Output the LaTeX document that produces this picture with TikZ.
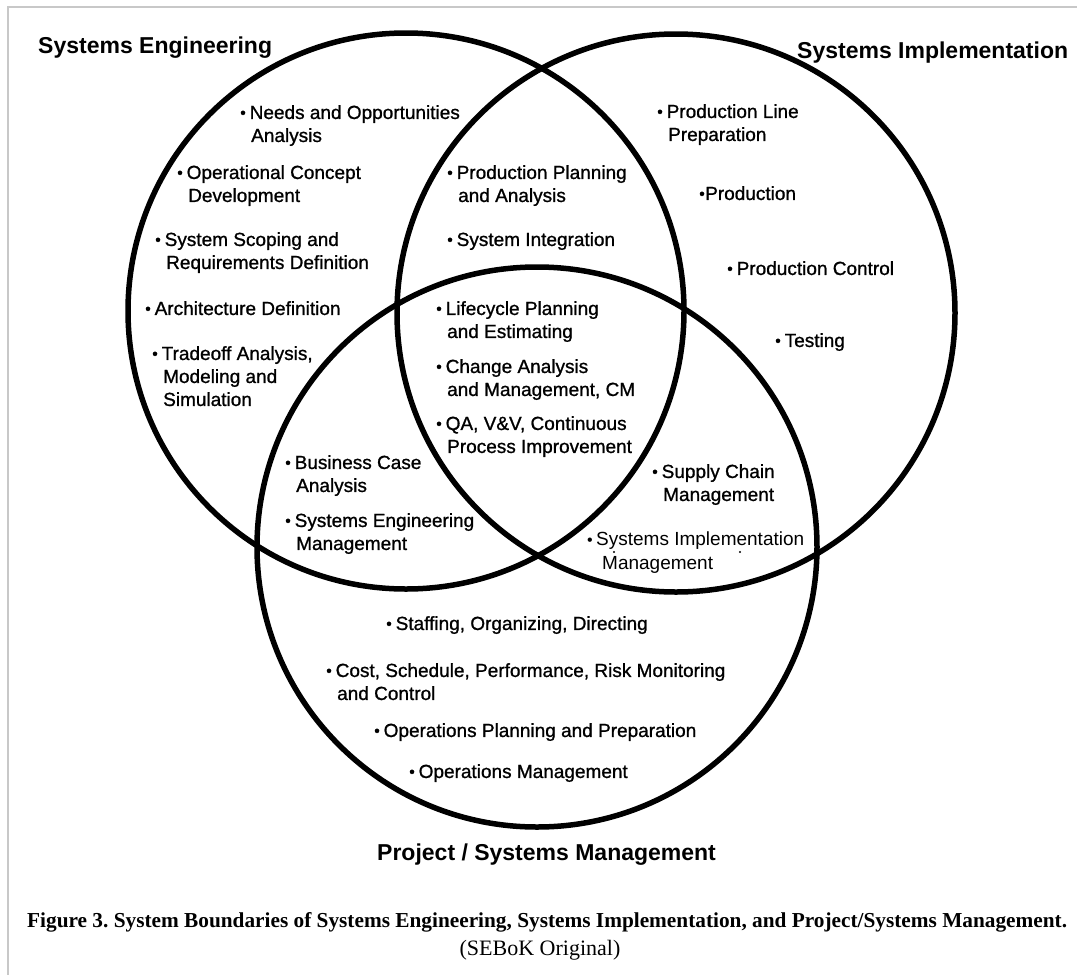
\documentclass[tikz,border=0pt]{standalone}
\usepackage{fontspec}
\setmainfont{Liberation Sans}
\newfontfamily\lblfont{Liberation Sans}[FakeBold=1.0]
\newfontfamily\thinfont{Liberation Sans}
\newfontfamily\capfont{Liberation Serif}
\newcommand{\bu}{\makebox[9.5pt][l]{\raisebox{0.8pt}{\fontsize{16}{16}\selectfont •}}}
\newcommand{\ind}{\hspace*{11pt}}
\definecolor{framegray}{RGB}{200,200,200}
\tikzset{
  ring/.style={draw=black, line width=5.5pt},
  lbl/.style={anchor=north west, inner sep=0pt, align=left, font=\lblfont\fontsize{19}{23}\selectfont},
  thinlbl/.style={anchor=north west, inner sep=0pt, align=left, font=\thinfont\fontsize{19}{24}\selectfont},
  ttl/.style={anchor=base west, inner sep=0pt, font=\fontsize{23}{27}\selectfont\bfseries},
}
\begin{document}
\frenchspacing
\begin{tikzpicture}[x=1pt,y=-1pt]
\useasboundingbox (0,0) rectangle (1077,975);
\fill[white] (0,0) rectangle (1077,975);
\draw[framegray, line width=1.5pt] (8,975) -- (8,7) -- (1077,7);

% circles
\draw[ring] (406,311) circle (278);
\draw[ring] (676,313) circle (279);
\draw[ring] (537,547) circle (280);

% titles
\node[ttl] (tSE) at (38,53) {Systems Engineering};
\node[ttl] (tSI) at (797,58) {Systems Implementation};
\node[ttl] (tPM) at (377,860) {Project / Systems Management};

% Systems Engineering only
\node[lbl] (n1) at (240,105) {\bu Needs and Opportunities\\\ind Analysis};
\node[lbl] (n2) at (177,165) {\bu Operational Concept\\\ind Development};
\node[lbl] (n3) at (155,232) {\bu System Scoping and\\\ind Requirements Definition};
\node[lbl] (n4) at (145,301) {\bu Architecture Definition};
\node[lbl] (n5) at (152,346) {\bu Tradeoff Analysis,\\\ind Modeling and\\\ind Simulation};

% SE & SI
\node[lbl] (n6) at (447,165) {\bu Production Planning\\\ind and Analysis};
\node[lbl] (n7) at (447,232) {\bu System Integration};

% SI only
\node[lbl] (n8) at (657,104) {\bu Production Line\\\ind Preparation};
\node[lbl] (n9) at (699,186) {\makebox[6pt][l]{\raisebox{0.8pt}{\fontsize{16}{16}\selectfont •}}Production};
\node[lbl] (n10) at (727,261) {\bu Production Control};
\node[lbl] (n11) at (775,333) {\bu Testing};

% all three
\node[lbl] (n12) at (436,301) {\bu Lifecycle Planning\\\ind and Estimating};
\node[lbl] (n13) at (436,359) {\bu Change Analysis\\\ind and Management, CM};
\node[lbl] (n14) at (436,416) {\bu QA, V\&V, Continuous\\\ind Process Improvement};

% SE & PM
\node[lbl] (n15) at (285,455) {\bu Business Case\\\ind Analysis};
\node[lbl] (n16) at (285,513) {\bu Systems Engineering\\\ind Management};

% SI & PM
\node[lbl] (n17) at (652,464) {\bu Supply Chain\\\ind Management};
\node[thinlbl] (n18) at (587,532) {\makebox[9pt][l]{\raisebox{0.8pt}{\fontsize{16}{16}\selectfont •}}Systems Implementation\\\hspace*{15pt}Management};
\fill (614,552) circle (1.1pt);
\fill (740,552) circle (1.1pt);

% PM only
\node[lbl] (n19) at (386,616) {\bu Staffing, Organizing, Directing};
\node[lbl] (n20) at (326,663) {\bu Cost, Schedule, Performance, Risk Monitoring\\\ind and Control};
\node[lbl] (n21) at (374,723) {\bu Operations Planning and Preparation};
\node[lbl] (n22) at (409,764) {\bu Operations Management};

% caption
\node[anchor=base west, inner sep=0pt, font=\capfont\fontsize{21.3}{25}\selectfont\bfseries] (cap) at (27,927)
  {Figure 3. System Boundaries of Systems Engineering, Systems Implementation, and Project/Systems Management.};
\node[anchor=base, inner sep=0pt, font=\capfont\fontsize{22}{25}\selectfont] (src) at (540,955)
  {(SEBoK Original)};
\end{tikzpicture}
\end{document}
